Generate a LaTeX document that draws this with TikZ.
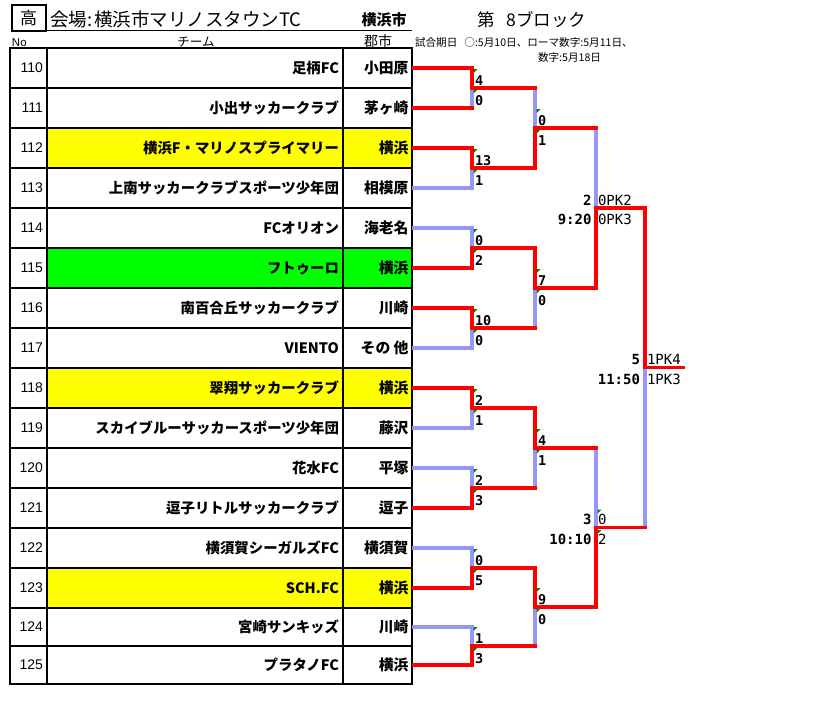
\documentclass[tikz,border=0pt]{standalone}
\usepackage{fontspec}
\setmainfont{Noto Sans CJK JP}
\newfontfamily\lat{Liberation Sans}
\newfontfamily\mono{DejaVu Sans Mono}
\usetikzlibrary{calc}
\definecolor{lose}{RGB}{150,150,250}
\definecolor{tri}{RGB}{0,128,0}
\definecolor{yel}{RGB}{255,255,0}
\definecolor{grn}{RGB}{0,255,0}
\newcommand{\fs}[1]{\fontsize{#1}{#1}\selectfont}
\newcommand{\mscore}[3]{%
  \node[scb,anchor=west] (#1u) at ($(#1)+(3,-7.5)$) {#2};
  \node[scb,anchor=west] (#1l) at ($(#1)+(3,12.5)$) {#3};
  \fill[tri] ($(#1)+(1.6,-19)$) -- ++(4,0) -- ++(-4,4) -- cycle;
  \fill[tri] ($(#1)+(1.6,1.6)$) -- ++(4,0) -- ++(-4,4) -- cycle;
}
\begin{document}
\begin{tikzpicture}[x=1pt,y=-1pt,
 cell/.style={draw=black,line width=1.1pt,inner sep=0pt,outer sep=0pt,minimum height=#1},
 tx/.style={inner sep=0pt,outer sep=0pt},
 numtx/.style={tx,font={\lat\fs{14}}},
 teamtx/.style={tx,font={\bfseries\fs{14.4}}},
 citytx/.style={tx,font={\bfseries\fs{14.8}}},
 win/.style={draw=red,line width=3.2pt,line cap=rect},
 loss/.style={draw=lose,line width=3.2pt},
 scb/.style={tx,font={\mono\bfseries\fs{13.5}}},
 scr/.style={tx,font={\mono\fs{14}}},
 tmb/.style={tx,font={\mono\bfseries\fs{14}}},
]
\useasboundingbox (0,0) rectangle (819,721);
\fill[white] (0,0) rectangle (819,721);

% header
\node[draw,line width=1.8pt,minimum width=34,minimum height=25.7,inner sep=0pt,outer sep=0pt,font={\fs{17}}] (kou) at (28.7,17.85) {\raisebox{-1pt}{高}};
\coordinate (ulend) at (412,30.7);
\draw[line width=1.5pt] (kou.south east) -- (ulend);
\node[tx,anchor=west,font={\fs{18.5}}] (venue) at (50,19) {会場:\hspace{2pt}横浜市マリノスタウンTC};
\node[tx,anchor=east,font={\bfseries\fs{15}}] (vcity) at (406.5,19.5) {横浜市};
\node[tx,anchor=west,font={\fs{17.5}}] (block) at (477,19.5) {第\hspace{12pt}8ブロック};
\node[tx,anchor=west,font={\lat\fs{11.5}}] (hno) at (12,43) {No};
\node[tx,font={\fs{12.5}}] (hteam) at (196,42) {チーム};
\node[tx,font={\fs{14}}] (hcity) at (378,41) {郡市};
\node[tx,anchor=west,font={\fs{10.6}}] (date1) at (415,42.5) {試合期日\hspace{7pt}○:5月10日、ローマ数字:5月11日、};
\node[tx,anchor=west,font={\fs{10.6}}] (date2) at (538,57) {数字:5月18日};

% table
\foreach \nn/\team/\city/\col/\yc/\h in {
110/足柄FC/小田原/white/68/40,
111/小出サッカークラブ/茅ヶ崎/white/108/40,
112/横浜F・マリノスプライマリー/横浜/yel/148/40,
113/上南サッカークラブスポーツ少年団/相模原/white/188/40,
114/FCオリオン/海老名/white/228/40,
115/フトゥーロ/横浜/grn/268/40,
116/南百合丘サッカークラブ/川崎/white/308/40,
117/VIENTO/その 他/white/348/40,
118/翠翔サッカークラブ/横浜/yel/388/40,
119/スカイブルーサッカースポーツ少年団/藤沢/white/428/40,
120/花水FC/平塚/white/468/40,
121/逗子リトルサッカークラブ/逗子/white/508/40,
122/横須賀シーガルズFC/横須賀/white/548/40,
123/SCH.FC/横浜/yel/588/40,
124/宮崎サンキッズ/川崎/white/627/38,
125/プラタノFC/横浜/white/665/38}{
 \node[cell=\h,minimum width=37,fill=white] (n\nn) at (28.5,\yc) {};
 \node[cell=\h,minimum width=296,fill=\col] (t\nn) at (195,\yc) {};
 \node[cell=\h,minimum width=69,fill=\col] (c\nn) at (377.5,\yc) {};
 \node[numtx,anchor=east] (nx\nn) at (43,\yc) {\nn};
 \node[teamtx,anchor=east] (tx\nn) at (339,\yc) {\team};
 \node[citytx,anchor=east] (cx\nn) at (408.5,\yc) {\city};
}

% junctions
\coordinate (j1) at (472,88);  \coordinate (j2) at (472,168);
\coordinate (j3) at (472,248); \coordinate (j4) at (472,328);
\coordinate (j5) at (472,408); \coordinate (j6) at (472,488);
\coordinate (j7) at (472,568); \coordinate (j8) at (472,646);
\coordinate (k1) at (535,128); \coordinate (k2) at (535,288);
\coordinate (k3) at (535,448); \coordinate (k4) at (535,607);
\coordinate (s1) at (596,208); \coordinate (s2) at (596,527.5);
\coordinate (f) at (645,367.75); \coordinate (e) at (683.5,367.75);

% losing lines
\draw[loss] (j1) -- (j1 |- c111.east);
\draw[loss] (c113.east) -| (j2);
\draw[loss] (c114.east) -| (j3);
\draw[loss] (c117.east) -| (j4);
\draw[loss] (c119.east) -| (j5);
\draw[loss] (c120.east) -| (j6);
\draw[loss] (c122.east) -| (j7);
\draw[loss] (c124.east) -| (j8);
\draw[loss] (k1 |- j1) -- (k1);
\draw[loss] (k2) -- (k2 |- j4);
\draw[loss] (k3) -- (k3 |- j6);
\draw[loss] (k4) -- (k4 |- j8);
\draw[loss] (s1 |- k1) -- (s1);
\draw[loss] (s2 |- k3) -- (s2);
\draw[loss] (f) -- (f |- s2);

% winning lines
\draw[win,shorten <=1.6pt] (c110.east) -| (j1) -- (k1 |- j1);
\draw[win,shorten <=1.6pt] (c111.east) -- (j1 |- c111.east);
\draw[win,shorten <=1.6pt] (c112.east) -| (j2) -| (k1) -- (s1 |- k1);
\draw[win,shorten <=1.6pt] (c115.east) -| (j3) -| (k2) -| (s1) -| (f) -- (e);
\draw[win,shorten <=1.6pt] (c116.east) -| (j4) -- (k2 |- j4);
\draw[win,shorten <=1.6pt] (c118.east) -| (j5) -| (k3) -- (s2 |- k3);
\draw[win,shorten <=1.6pt] (c121.east) -| (j6) -- (k3 |- j6);
\draw[win,shorten <=1.6pt] (c123.east) -| (j7) -| (k4) -| (s2) -- (f |- s2);
\draw[win,shorten <=1.6pt] (c125.east) -| (j8) -- (k4 |- j8);

% scores
\mscore{j1}{4}{0}
\mscore{j2}{13}{1}
\mscore{j3}{0}{2}
\mscore{j4}{10}{0}
\mscore{j5}{2}{1}
\mscore{j6}{2}{3}
\mscore{j7}{0}{5}
\mscore{j8}{1}{3}
\mscore{k1}{0}{1}
\mscore{k2}{7}{0}
\mscore{k3}{4}{1}
\mscore{k4}{9}{0}

\node[scr,anchor=west] (s1u) at ($(s1)+(2,-8)$) {0PK2};
\node[scr,anchor=west] (s1l) at ($(s1)+(2,11.5)$) {0PK3};
\node[tmb,anchor=east] (s1m) at ($(s1)+(-4.5,-8)$) {2};
\node[tmb,anchor=east] (s1t) at ($(s1)+(-4.5,11.5)$) {9:20};

\node[scr,anchor=west] (s2u) at ($(s2)+(2,-8)$) {0};
\node[scr,anchor=west] (s2l) at ($(s2)+(2,11.5)$) {2};
\node[tmb,anchor=east] (s2m) at ($(s2)+(-4.5,-8)$) {3};
\node[tmb,anchor=east] (s2t) at ($(s2)+(-4.5,11.5)$) {10:10};
\fill[tri] ($(s2)+(1.6,-18)$) -- ++(4,0) -- ++(-4,4) -- cycle;
\fill[tri] ($(s2)+(1.6,2.5)$) -- ++(4,0) -- ++(-4,4) -- cycle;

\node[scr,anchor=west] (fu) at ($(f)+(2,-8)$) {1PK4};
\node[scr,anchor=west] (fl) at ($(f)+(2,11.5)$) {1PK3};
\node[tmb,anchor=east] (fm) at ($(f)+(-5,-8)$) {5};
\node[tmb,anchor=east] (ft) at ($(f)+(-5,11.5)$) {11:50};
\end{tikzpicture}
\end{document}
